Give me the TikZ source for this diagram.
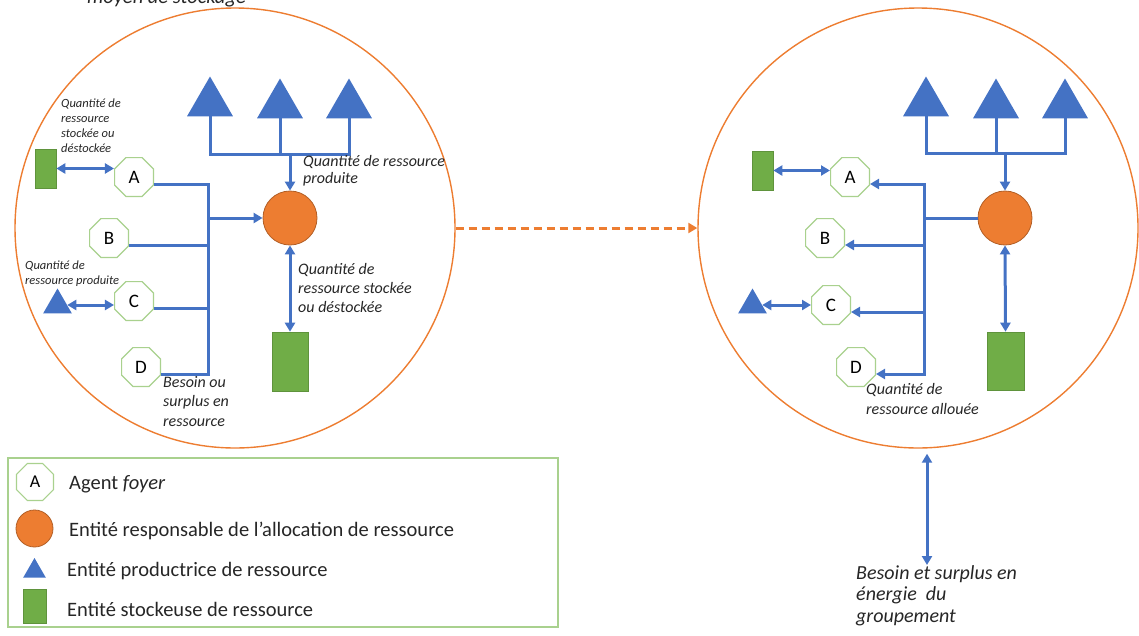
\documentclass[tikz,border=0pt]{standalone}
\usepackage{fontspec}
\setmainfont{Carlito}
\usetikzlibrary{arrows.meta,shapes.geometric,calc}
\definecolor{obleu}{HTML}{4472C4}
\definecolor{oorange}{HTML}{ED7D31}
\definecolor{overt}{HTML}{70AD47}
\definecolor{overtclair}{HTML}{A9D18E}
\definecolor{otexte}{HTML}{262626}

\begin{document}
\begin{tikzpicture}[x=1pt,y=-1pt,>={Triangle[length=9pt,width=10pt]},
		groupe/.style={draw=oorange,line width=1.4pt,circle,minimum size=440pt,inner sep=0pt},
		agent/.style={draw=overtclair,line width=1.2pt,fill=white,regular polygon,regular polygon sides=8,minimum size=42pt,inner sep=0pt,font=\fontsize{19}{20}\selectfont},
		alloc/.style={draw=oorange!75!black,line width=0.8pt,fill=oorange,circle,minimum size=54pt,inner sep=0pt},
		prod/.style={fill=obleu,regular polygon,regular polygon sides=3,minimum size=53pt,inner sep=0pt},
		stock/.style={fill=overt,draw=overt!85!black,line width=0.6pt,rectangle,inner sep=0pt},
		flux/.style={draw=obleu,line width=3pt},
		petit/.style={anchor=north west,inner sep=0pt,align=left,text=otexte,font=\fontsize{12.5}{15}\itshape\selectfont},
		moyen/.style={anchor=north west,inner sep=0pt,align=left,text=otexte,font=\fontsize{16}{19}\itshape\selectfont},
		legende/.style={anchor=base west,inner sep=0pt,text=otexte,font=\fontsize{20.5}{24}\selectfont}]
		
		\useasboundingbox (0,0) rectangle (1139,635);
		\node[anchor=base west,inner sep=0pt,text=otexte,font=\fontsize{20.5}{24}\itshape\selectfont] (titre) at (87,3) {moyen de stockage};
		
		\node[groupe] (g1) at (235,228) {};
		\node[groupe] (g2) at (918,228) {};
		\draw[draw=oorange,line width=3pt,dash pattern=on 8pt off 5pt,->] (g1.east) -- (g2.west);
		
		\node[prod] (t11) at (210,103) {};
		\node[prod] (t12) at (280,105) {};
		\node[prod] (t13) at (349,105) {};
		\coordinate (j1) at (290,154);
		\node[alloc] (r1) at (290,218) {};
		\node[agent] (a1) at (134,177) {A};
		\node[agent] (b1) at (109,238) {B};
		\node[agent] (c1) at (134,301) {C};
		\node[agent] (d1) at (141,367) {D};
		\coordinate (bus1) at (208,218);
		\node[stock,minimum width=21pt,minimum height=39pt] (s1) at (45.5,168.5) {};
		\node[prod,minimum size=33pt] (p1) at (57.5,305) {};
		\node[stock,minimum width=36pt,minimum height=59pt] (q1) at (290,361.5) {};
		
		\draw[flux] (t11.south) |- (j1) -| (t13.south);
		\draw[flux] (t12.south) -- (t12.south |- j1);
		\draw[flux,->] (j1) -- (r1.north);
		\foreach \ag in {a1,b1,c1,d1} {
			\draw[flux] ($(\ag.east)+(0,7)$) -| (bus1);
		}
		\draw[flux,->] (bus1) -- (r1.west);
		\draw[flux,<->] (s1.east) -- (s1.east -| a1.west);
		\draw[flux,<->] (p1.east) -- (p1.east -| c1.west);
		\draw[flux,<->] (r1.south) -- (q1.north);
		
		\node[petit] (l11) at (61,98.5) {Quantité de\\ressource\\stockée ou\\déstockée};
		\node[moyen,font=\fontsize{16}{17.5}\itshape\selectfont] (l12) at (303,155) {Quantité de ressource\\produite};
		\node[petit] (l13) at (25,260.5) {Quantité de\\ressource produite};
		\node[moyen] (l14) at (298,263) {Quantité de\\ressource stockée\\ou déstockée};
		\node[moyen,font=\fontsize{16}{19.5}\itshape\selectfont] (l15) at (163,376) {Besoin ou\\surplus en\\ressource};
		
		\begin{scope}[shift={(716,0)}]
			\node[prod] (t21) at (210,103) {};
			\node[prod] (t22) at (280,105) {};
			\node[prod] (t23) at (349,105) {};
			\coordinate (j2) at (289,153);
			\node[alloc] (r2) at (289,218) {};
			\node[agent] (a2) at (134,177) {A};
			\node[agent] (b2) at (109,238) {B};
			\node[agent] (c2) at (115,305) {C};
			\node[agent] (d2) at (140,367) {D};
			\coordinate (bus2) at (208,218);
			\node[stock,minimum width=21pt,minimum height=39pt] (s2) at (46.5,170.5) {};
			\node[prod,minimum size=33pt] (p2) at (36.5,305) {};
			\node[stock,minimum width=37pt,minimum height=58pt] (q2) at (289.5,361) {};
			\coordinate (besoin) at (211,565);
			
			\draw[flux] (t21.south) |- (j2) -| (t23.south);
			\draw[flux] (t22.south) -- (t22.south |- j2);
			\draw[flux,->] (j2) -- (r2.north);
			\draw[flux] (r2.west) -- (bus2);
			\foreach \ag in {a2,b2,c2,d2} {
				\draw[flux,->] (bus2) |- ($(\ag.east)+(0,7)$);
			}
			\draw[flux,<->] (s2.east) -- (s2.east -| a2.west);
			\draw[flux,<->] (p2.east) -- (p2.east -| c2.west);
			\draw[flux,<->] (r2.south) -- (q2.north);
			\draw[flux,<->,shorten <=5pt] (besoin |- g2.south) -- (besoin);
			
			\node[moyen,font=\fontsize{16}{20}\itshape\selectfont] (l21) at (150,383) {Quantité de\\ressource allouée};
			\node[moyen,font=\fontsize{20}{21.5}\itshape\selectfont] (l22) at (140,565) {Besoin et surplus en\\énergie\ \ du\\groupement};
		\end{scope}
		
		\draw[draw=overtclair,line width=1.2pt] (8,458) rectangle (558,627);
		\node[agent,minimum size=40pt,font=\fontsize{18}{20}\selectfont] (la) at (35,482) {A};
		\node[alloc,minimum size=37pt] (lr) at (34.5,528.5) {};
		\node[prod,minimum size=26pt] (lp) at (34.5,571) {};
		\node[stock,minimum width=23pt,minimum height=34pt] (ls) at (34.5,606) {};
		\node[legende] (lta) at (69,489) {Agent \textit{foyer}};
		\node[legende] (ltr) at (69,536) {Entité responsable de l’allocation de ressource};
		\node[legende] (ltp) at (67,576) {Entité productrice de ressource};
		\node[legende] (lts) at (67,616) {Entité stockeuse de ressource};
	\end{tikzpicture}
\end{document}
